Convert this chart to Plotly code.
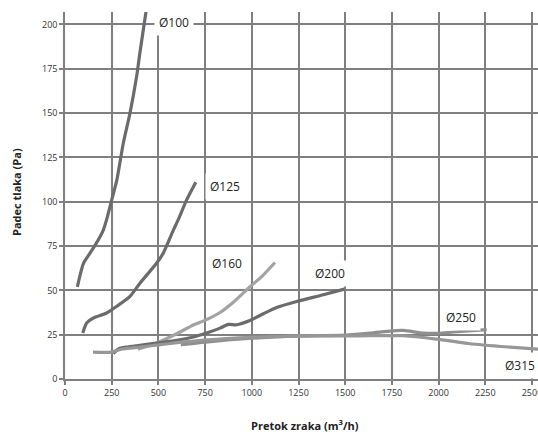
import plotly.graph_objects as go

# Data (flow m3/h, pressure drop Pa)
d100_x = [66, 98, 134, 170, 205, 223, 250, 277, 312, 348, 384, 401, 432, 445]
d100_y = [52, 65, 71, 77, 84, 90, 101, 112, 133, 150, 171, 184, 206, 215]

d125_x = [95, 116, 152, 223, 277, 348, 401, 491, 526, 580, 607, 651, 700]
d125_y = [26, 31.6, 34.4, 37.2, 41, 46.6, 54, 65.4, 71, 84, 90, 101, 111]

d160_x = [390, 491, 598, 687, 758, 830, 901, 990, 1060, 1124]
d160_y = [16.8, 20.3, 25.5, 30.5, 33.5, 37.5, 43.3, 52, 58.5, 65.7]

d200_x = [259, 285, 330, 401, 491, 598, 687, 758, 830, 874, 919, 990, 1062, 1133, 1240, 1383, 1495]
d200_y = [14.3, 16.9, 18, 19, 20.3, 21.8, 23.7, 25.9, 28.7, 30.8, 30.6, 33, 36.8, 40.3, 43.7, 47.5, 50.7]

d250_x = [620, 750, 1000, 1250, 1500, 1633, 1750, 1811, 1918, 2000, 2079, 2257]
d250_y = [19.3, 20.8, 23, 24.3, 24.8, 25.9, 27.2, 27.4, 25.9, 25.8, 26.5, 27.8]

d315_x = [150, 250, 300, 400, 500, 600, 750, 1000, 1250, 1500, 1633, 1811, 1990, 2168, 2382, 2540]
d315_y = [15.2, 15.2, 16.8, 18, 19.2, 20.5, 22, 23.5, 24.2, 24.3, 24.4, 24.4, 22.5, 19.9, 18, 16.8]

x_ticks = [0, 250, 500, 750, 1000, 1250, 1500, 1750, 2000, 2250, 2500]
y_ticks = [0, 25, 50, 75, 100, 125, 150, 175, 200]

labels = ["Ø100", "Ø125", "Ø160", "Ø200", "Ø250", "Ø315"]
label_x = [583, 859, 865, 1419, 2120, 2434]
label_y = [200.8, 108.6, 65.4, 59.7, 34.9, 7.7]

series = [(d100_x, d100_y, "#6b6b6c"), (d125_x, d125_y, "#6b6b6c"),
          (d160_x, d160_y, "#a3a3a3"), (d200_x, d200_y, "#6b6b6c"),
          (d250_x, d250_y, "#8f8f90"), (d315_x, d315_y, "#979798")]

fig = go.Figure()
for (xs, ys, col), name in zip(series, labels):
    fig.add_trace(go.Scatter(x=xs, y=ys, mode="lines", name=name,
                             line=dict(color=col, width=3.2, shape="spline", smoothing=0.6)))

for t, x, y in zip(labels, label_x, label_y):
    fig.add_annotation(x=x, y=y, text=t, showarrow=False, bgcolor="white",
                       borderpad=4, font=dict(family="Open Sans, sans-serif", size=12, color="#222"))

L, T, B = 65, 12, 53
PW = 538 - L
PH = 432 - T - B
fig.add_annotation(xref="paper", yref="paper", x=(305 - 65) / PW, y=-(425 - 379) / PH,
                   yanchor="middle", text="<b>Pretok zraka (m<sup>3</sup>/h)</b>", showarrow=False,
                   font=dict(family="Open Sans, sans-serif", size=11, color="#222"))
fig.add_annotation(xref="paper", yref="paper", x=-(65 - 16) / PW, y=(379 - 192) / PH, textangle=-90,
                   xanchor="center", yanchor="middle", text="<b>Padec tlaka (Pa)</b>", showarrow=False,
                   font=dict(family="Open Sans, sans-serif", size=11, color="#222"))

axis_common = dict(showgrid=True, gridcolor="#7f7f7f", gridwidth=1.5, zeroline=False,
                   showline=True, linecolor="#7f7f7f", linewidth=1.5,
                   ticks="outside", ticklen=4, tickcolor="#7f7f7f", tickwidth=1.5,
                   tickfont=dict(family="Open Sans, sans-serif", size=9, color="#333"),
                   ticklabeloverflow="allow", automargin=False)

fig.update_layout(
    width=538, height=432, template="none", showlegend=False,
    paper_bgcolor="white", plot_bgcolor="white",
    margin=dict(l=L, r=0, t=T, b=B),
    xaxis=dict(range=[0, 2532], tickvals=x_ticks, **axis_common),
    yaxis=dict(range=[0, 207], tickvals=y_ticks, **axis_common),
)

# remove the page's default body margin so the 538x432 figure fills the window exactly
fig.write_html("out.html", config={"displayModeBar": False},
               post_script="document.body.style.margin='0';document.body.style.overflow='hidden';")
